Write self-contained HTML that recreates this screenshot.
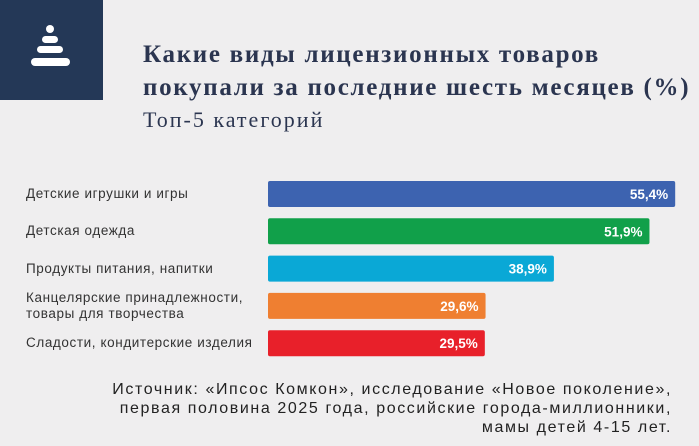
<!DOCTYPE html>
<html><head><meta charset="utf-8"><style>
body{margin:0;width:699px;height:446px;background:#efeeef;overflow:hidden;font-family:"Liberation Sans",sans-serif;position:relative}
#logo{position:absolute;left:0;top:0;width:103px;height:100px;background:#243857}
.t{position:absolute;left:143px;font-family:"Liberation Serif",serif;color:#2b3550;white-space:nowrap}
.lbl{position:absolute;left:26px;font-size:13.5px;letter-spacing:0.6px;color:#333;line-height:16px;white-space:nowrap}
#src{position:absolute;right:27px;top:380px;text-align:right;font-size:16px;letter-spacing:1.6px;line-height:19px;color:#222;white-space:nowrap}
</style></head><body>
<div id="logo">
<svg width="103" height="100"><g fill="#fff"><circle cx="50" cy="29" r="4"/><rect x="42" y="36" width="16" height="7" rx="3.5"/><rect x="37" y="46" width="26" height="7" rx="3.5"/><rect x="31" y="58" width="39" height="8" rx="4"/></g></svg>
</div>
<div class="t" style="top:38px;font-size:25px;letter-spacing:1.7px;font-weight:bold;line-height:33px">Какие виды лицензионных товаров<br>покупали за последние шесть месяцев (%)</div>
<div class="t" style="top:107px;font-size:22px;letter-spacing:2px">Топ-5 категорий</div>
<svg id="chart" width="699" height="446" style="position:absolute;left:0;top:0"></svg>
<div id="labels"></div>
<div id="src">Источник: «Ипсос Комкон», исследование «Новое поколение»,<br>первая половина 2025 года, российские города-миллионники,<br>мамы детей 4-15 лет.</div>
<script>
const categories=["Детские игрушки и игры","Детская одежда","Продукты питания, напитки","Канцелярские принадлежности,<br>товары для творчества","Сладости, кондитерские изделия"];
const values=[55.4,51.9,38.9,29.6,29.5];
const valueLabels=["55,4%","51,9%","38,9%","29,6%","29,5%"];
const colors=["#3d63b0","#11a04a","#0aa8d6","#ef7f31","#e8202a"];
const x=v=>268+v*7.35;
const y=i=>181+i*37.3;
const svg=document.getElementById('chart');
const ns="http://www.w3.org/2000/svg";
const L=document.getElementById('labels');
values.forEach((v,i)=>{
 const r=document.createElementNS(ns,'rect');
 r.setAttribute('x',268);r.setAttribute('y',y(i));r.setAttribute('width',x(v)-268);r.setAttribute('height',26);r.setAttribute('rx',2);r.setAttribute('fill',colors[i]);
 
 
 svg.appendChild(r);
 const t=document.createElementNS(ns,'text');
 t.setAttribute('x',x(v)-7);t.setAttribute('y',y(i)+18);t.setAttribute('text-anchor','end');t.setAttribute('fill','#fff');t.setAttribute('font-weight','bold');t.setAttribute('font-size','13.5');t.setAttribute('font-family','Liberation Sans, sans-serif');
 t.textContent=valueLabels[i];
 
 
 svg.appendChild(t);
 const d=document.createElement('div');
 d.className='lbl';d.innerHTML=categories[i];
 const two=categories[i].includes('<br>');
 d.style.top=(y(i)+13-(two?16:8))+'px';
 
 
 L.appendChild(d);
});
</script>
</body></html>
